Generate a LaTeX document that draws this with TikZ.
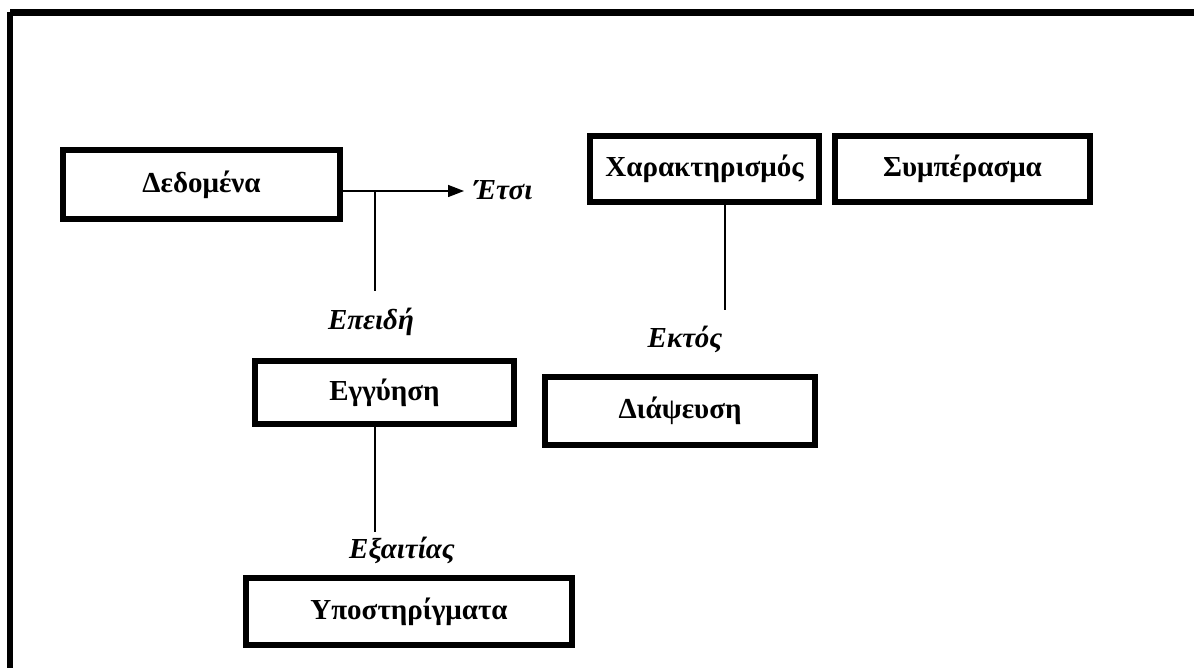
\documentclass[tikz,border=0pt]{standalone}
\usepackage{fontspec}
\setmainfont{Liberation Serif}
\usetikzlibrary{arrows.meta}
\tikzset{
  box/.style={draw=black, line width=6pt, fill=white, inner sep=0pt,
    font=\fontsize{29}{34}\selectfont\bfseries},
  lbl/.style={inner sep=0pt, font=\fontsize{29}{34}\selectfont\bfseries\itshape},
  conn/.style={draw=black, line width=1.4pt},
  frame/.style={draw=black, line width=6.5pt}
}
\begin{document}
\begin{tikzpicture}[x=1pt,y=-1pt]
\useasboundingbox (0,0) rectangle (1194,668);
\begin{scope}
\clip (0,0) rectangle (1194,668);
\draw[frame] (10,12.5) -- (1210,12.5);
\draw[frame] (10,12.5) -- (10,690);
\end{scope}
% boxes
\node[box, minimum width=277pt, minimum height=69pt] (ded) at (201.5,184.5) {Δεδομένα};
\node[box, minimum width=229pt, minimum height=66pt] (char) at (704.5,169) {Χαρακτηρισμός};
\node[box, minimum width=255pt, minimum height=66pt] (sym) at (962.5,169) {Συμπέρασμα};
\node[box, minimum width=259pt, minimum height=63pt] (egg) at (384.5,392.5) {Εγγύηση};
\node[box, minimum width=270pt, minimum height=68pt] (dia) at (680,411) {Διάψευση};
\node[box, minimum width=326pt, minimum height=67pt] (ypo) at (409,611.5) {Υποστηρίγματα};
% labels
\node[lbl] (etsi) at (503,190) {Έτσι};
\node[lbl] (epeidi) at (371,322) {Επειδή};
\node[lbl] (ektos) at (685,339) {Εκτός};
\node[lbl] (exait) at (402,550) {Εξαιτίας};
% connectors
\coordinate (a0) at (343,191);
\coordinate (tip) at (464,191);
\coordinate (j1) at (375,191);
\coordinate (e1) at (375,291);
\coordinate (c0) at (725,205);
\coordinate (c1) at (725,310);
\coordinate (g0) at (375,427);
\coordinate (g1) at (375,532);
\draw[conn, -{Triangle[length=16pt,width=12pt]}] (a0) -- (tip);
\draw[conn] (j1) -- (e1);
\draw[conn] (c0) -- (c1);
\draw[conn] (g0) -- (g1);
\end{tikzpicture}
\end{document}
